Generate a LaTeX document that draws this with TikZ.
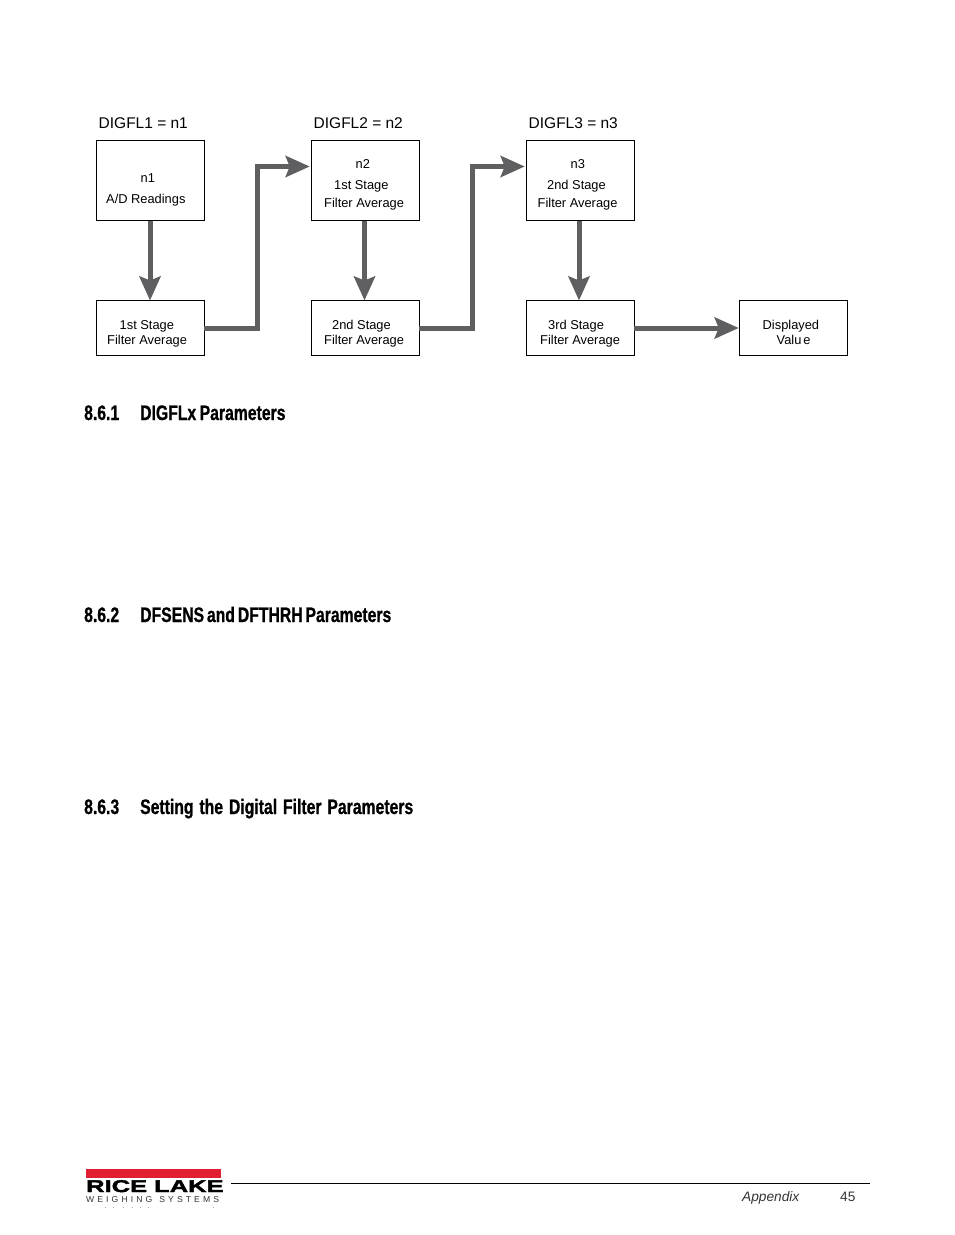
\documentclass[tikz,border=0pt]{standalone}
\usepackage{fontspec}
\setmainfont{Liberation Sans}
\newfontfamily\headfont[FakeStretch=0.75,FakeBold=0.8]{Liberation Sans Bold}
\newfontfamily\logofont[FakeStretch=1.5,FakeBold=2.5]{Liberation Sans Bold}
\usetikzlibrary{arrows.meta,calc}
\definecolor{flow}{RGB}{95,95,97}
\definecolor{logored}{RGB}{225,30,50}
\tikzset{
  box/.style={draw=black,line width=1.25pt,minimum width=107.5pt,inner sep=0,outer sep=0},
  tall/.style={box,minimum height=80pt},
  short/.style={box,minimum height=55pt},
  small/.style={anchor=base west,inner sep=0,font=\fontsize{12.85}{14}\selectfont,text=black},
  big/.style={anchor=base west,inner sep=0,font=\fontsize{15.5}{17}\selectfont,text=black},
  head/.style={anchor=base west,inner sep=0,font=\headfont\fontsize{21}{24}\selectfont},
  flowline/.style={draw=flow,line width=5pt,-{Stealth[length=24pt,width=21pt,inset=4pt]}},
  foot/.style={anchor=base west,inner sep=0,font=\fontsize{13.7}{15}\selectfont,text=black!80}
}
\begin{document}
\begin{tikzpicture}[x=1pt,y=-1pt]
\useasboundingbox (0,0) rectangle (954,1235);
% boxes
\node[tall]  (n1) at (150.5,180.5) {};
\node[tall]  (n2) at (365.5,180.5) {};
\node[tall]  (n3) at (580.5,180.5) {};
\node[short] (s1) at (150.5,328) {};
\node[short] (s2) at (365.5,328) {};
\node[short] (s3) at (580.5,328) {};
\node[short] (dv) at (793.5,328) {};
% titles
\node[big] (t1) at (98.5,128) {DIGFL1 = n1};
\node[big] (t2) at (313.5,128) {DIGFL2 = n2};
\node[big] (t3) at (528.5,128) {DIGFL3 = n3};
% box texts
\node[small] (a1) at (140.5,182) {n1};
\node[small] (a2) at (106,203) {A/D Readings};
\node[small] (b1) at (355.5,168) {n2};
\node[small] (b2) at (334,189) {1st Stage};
\node[small] (b3) at (324,207) {Filter Average};
\node[small] (c1) at (570.5,168) {n3};
\node[small] (c2) at (547,189) {2nd Stage};
\node[small] (c3) at (537.5,207) {Filter Average};
\node[small] (d1) at (119.5,329) {1st Stage};
\node[small] (d2) at (107,344) {Filter Average};
\node[small] (e1) at (332,329) {2nd Stage};
\node[small] (e2) at (324,344) {Filter Average};
\node[small] (f1) at (548,329) {3rd Stage};
\node[small] (f2) at (540,344) {Filter Average};
\node[small] (g1) at (762.5,329) {Displayed};
\node[small] (g2) at (776.5,344) {Valu\kern2pt e};
% connectors
\coordinate (in2) at ($(n2.north west)+(0,26)$);
\coordinate (in3) at ($(n3.north west)+(0,26)$);
\coordinate (v1) at (257.5,328);
\coordinate (v2) at (472.5,328);
\draw[flowline] ($(n1.south)+(-0.5,0)$) -- ($(s1.north)+(-0.5,0)$);
\draw[flowline] ($(n2.south)+(-1,0)$) -- ($(s2.north)+(-1,0)$);
\draw[flowline] ($(n3.south)+(-1.5,0)$) -- ($(s3.north)+(-1.5,0)$);
\draw[flowline,shorten >=2pt] (s1.east) -- (v1) |- (in2);
\draw[flowline,shorten >=2pt] (s2.east) -- (v2) |- (in3);
\draw[flowline,shorten >=1pt] (s3.east) -- (dv.west);
% headings
\node[head] (h1n) at (84,420) {8.6.1};
\node[head] (h1t) at (140,420) {\spaceskip=3.5pt DIGFLx Parameters};
\node[head] (h2n) at (84,622) {8.6.2};
\node[head] (h2t) at (140,622) {\spaceskip=2.9pt DFSENS and DFTHRH Parameters};
\node[head] (h3n) at (84,814) {8.6.3};
\node[head] (h3t) at (140,814) {\spaceskip=5.9pt Setting the Digital Filter Parameters};
% footer
\fill[logored] (86,1169) rectangle (221,1177.5);
\node[anchor=base west,inner sep=0,font=\logofont\fontsize{17}{18}\selectfont] (logo) at (86,1192) {RICE LAKE};
\node[anchor=base west,inner sep=0,font=\fontsize{8.6}{10}\selectfont,text=black!80] (logo2) at (86,1202) {W\kern3.1pt E\kern3.1pt I\kern3.1pt G\kern3.1pt H\kern3.1pt I\kern3.1pt N\kern3.1pt G\kern7pt S\kern3.1pt Y\kern3.1pt S\kern3.1pt T\kern3.1pt E\kern3.1pt M\kern3.1pt S};
\foreach \x in {105,113,123,132,140,148,213}
  \fill[black!35] (\x,1206.5) rectangle ++(1,1);
\draw[black,line width=0.9pt] (231,1183.5) -- (870,1183.5);
\node[foot,font=\itshape\fontsize{13.7}{15}\selectfont] (fa) at (742,1201) {Appendix};
\node[foot] (fn) at (840,1201) {45};
\end{tikzpicture}
\end{document}
